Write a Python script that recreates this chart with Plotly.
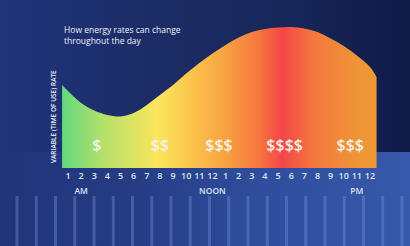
import plotly.graph_objects as go

# ---- data ----
hours = [0.55, 2, 3, 4, 5, 6, 7, 8, 9, 10, 11, 12, 13, 14, 15, 16, 17, 18, 19, 20, 21, 22, 23, 24, 24.5]
rate = [83, 65, 57.5, 53, 51.5, 55, 63, 73, 83, 94.5, 105, 114.5, 123, 130.5, 136, 139, 140.5, 141, 139.5, 136, 129.5, 122, 112.5, 101, 91]
tick_hours = list(range(1, 25))
tick_labels = [str(h) for h in range(1, 13)] + [str(h) for h in range(1, 13)]
period_hours = [2, 12, 23]
period_labels = ["AM", "NOON", "PM"]
price_hours = [3.2, 8.0, 12.5, 17.5, 22.5]
price_labels = ["$", "$$", "$$$", "$$$$", "$$$"]

W, H = 410, 246
PX_PER_HOUR = 13.13
X0 = 1 - 68 / PX_PER_HOUR
X1 = X0 + W / PX_PER_HOUR

fig = go.Figure()

# background (pixel-coordinate axes)
fig.add_trace(go.Scatter(
    x=[0, W, W, 0, 0], y=[0, 0, 152, 152, 0], mode="lines", line=dict(width=0),
    fill="toself", hoverinfo="skip", showlegend=False,
    fillgradient=dict(type="horizontal", colorscale=[
        [0, "#20347c"], [0.35, "#1c2d66"], [0.7, "#18275a"], [1, "#0f1a46"]]),
    xaxis="x", yaxis="y"))
fig.add_trace(go.Scatter(
    x=[0, W, W, 0, 0], y=[152, 152, H, H, 152], mode="lines", line=dict(width=0),
    fill="toself", hoverinfo="skip", showlegend=False,
    fillgradient=dict(type="horizontal", colorscale=[
        [0, "#20347a"], [0.3, "#253b82"], [0.6, "#2e4c9a"], [1, "#3759ab"]]),
    xaxis="x", yaxis="y"))

# main area
fig.add_trace(go.Scatter(
    x=hours, y=rate, mode="lines", line=dict(width=0, shape="spline", smoothing=1.0),
    fill="tozeroy", hoverinfo="skip", showlegend=False,
    fillgradient=dict(type="horizontal", colorscale=[
        [0.0, "#62d97f"], [0.13, "#b4e06a"], [0.3, "#fbe65c"], [0.42, "#fbc24c"],
        [0.525, "#f8a040"], [0.63, "#f7743f"], [0.70, "#f5464a"], [0.8, "#f3783e"],
        [0.94, "#ef9536"], [1.0, "#ee9835"]]),
    xaxis="x2", yaxis="y2"))

fig.add_trace(go.Scatter(
    x=price_hours, y=[21] * len(price_hours), mode="text", text=price_labels,
    textfont=dict(family="Open Sans", size=16, color="#f6f2e6", weight=600),
    hoverinfo="skip", showlegend=False, xaxis="x2", yaxis="y2"))

fig.add_trace(go.Scatter(
    x=tick_hours, y=[-9] * len(tick_hours), mode="text", text=tick_labels,
    textfont=dict(family="Open Sans", size=9, color="#dfe4f2", weight=600),
    hoverinfo="skip", showlegend=False, xaxis="x2", yaxis="y2"))

fig.add_trace(go.Scatter(
    x=period_hours, y=[-24] * len(period_hours), mode="text", text=period_labels,
    textfont=dict(family="Open Sans", size=8.5, color="#dfe4f2", weight=600),
    hoverinfo="skip", showlegend=False, xaxis="x2", yaxis="y2"))

# decorative stripes
shapes = []
for i in range(21):
    xp = 17 + i * 19.25
    shapes.append(dict(type="line", xref="x", yref="y", x0=xp, x1=xp, y0=196, y1=H,
                       line=dict(color="rgba(110,140,220,0.42)", width=3), layer="above"))

annotations = [
    dict(text="How energy rates can change<br>throughout the day", x=62 / W, y=1 - 22 / H,
         xref="paper", yref="paper", xanchor="left", yanchor="top", align="left",
         showarrow=False, font=dict(family="Open Sans", size=8.5, color="#eef0f8")),
    dict(text="VARIABLE (TIME OF USE) RATE", x=53 / W, y=1 - 117 / H, textangle=-90,
         xref="paper", yref="paper", xanchor="center", yanchor="middle",
         showarrow=False, font=dict(family="Open Sans", size=6.5, color="#eef0f8", weight=600)),
]

fig.update_layout(
    width=W, height=H, margin=dict(l=0, r=0, t=0, b=0),
    paper_bgcolor="#1b2b60", plot_bgcolor="rgba(0,0,0,0)",
    xaxis=dict(range=[0, W], visible=False, fixedrange=True),
    yaxis=dict(range=[H, 0], visible=False, fixedrange=True),
    xaxis2=dict(range=[X0, X1], visible=False, overlaying="x", fixedrange=True),
    yaxis2=dict(range=[-78, 168], visible=False, overlaying="y", fixedrange=True),
    shapes=shapes, annotations=annotations, showlegend=False,
)

fig.write_html("out.html", config={"displayModeBar": False},
               post_script="document.body.style.margin='0';document.body.style.overflow='hidden';")
